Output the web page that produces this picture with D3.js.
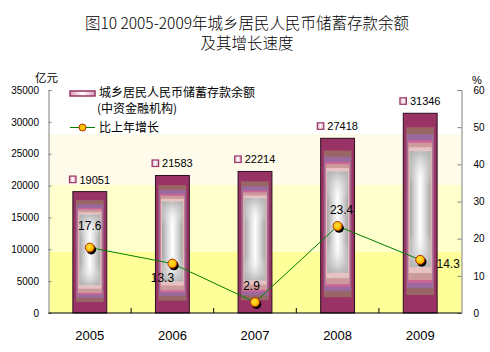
<!DOCTYPE html>
<html><head><meta charset="utf-8">
<script src="https://cdn.jsdelivr.net/npm/d3@7"></script>
<style>body{margin:0;background:#fff}svg{display:block}</style>
</head><body>
<svg id="c" width="490" height="352"></svg>
<script>
const years = ["2005","2006","2007","2008","2009"];
const savings = [19051, 21583, 22214, 27418, 31346];
const growth = [17.6, 13.3, 2.9, 23.4, 14.3];
const leftTicks = [0,5000,10000,15000,20000,25000,30000,35000];
const rightTicks = [0,10,20,30,40,50,60];
const titleLines = ["图10 2005-2009年城乡居民人民币储蓄存款余额","及其增长速度"];
const legendBar = ["城乡居民人民币储蓄存款余额","(中资金融机构)"];
const legendLine = "比上年增长";
const leftUnit = "亿元", rightUnit = "%";

const svg = d3.select("#c");
const X0 = 48.5, X1 = 461.5, Y0 = 313, YT = 90;
const cjk = "'Noto Sans CJK SC','Noto Sans',sans-serif";
const lat = "'Liberation Sans',Arial,sans-serif";

const x = d3.scaleBand().domain(years).range([X0, X1]).paddingInner(0.59).paddingOuter(0.295);
const yL = d3.scaleLinear().domain([0,35000]).range([Y0, YT]);
const yR = d3.scaleLinear().domain([0,60]).range([Y0, YT]);

const defs = svg.append("defs");
const gH = defs.append("linearGradient").attr("id","gh").attr("x1",0).attr("x2",1).attr("y1",0).attr("y2",0);
[[0,"#a6a6a6"],[0.3,"#e0e0e0"],[0.5,"#ffffff"],[0.7,"#e0e0e0"],[1,"#a6a6a6"]].forEach(s=>gH.append("stop").attr("offset",s[0]).attr("stop-color",s[1]));
const gV = defs.append("linearGradient").attr("id","gv").attr("x1",0).attr("x2",0).attr("y1",0).attr("y2",1);
[[0,"#b0b0b0",0.85],[0.3,"#ffffff",0],[0.7,"#ffffff",0],[1,"#b0b0b0",0.85]].forEach(s=>gV.append("stop").attr("offset",s[0]).attr("stop-color",s[1]).attr("stop-opacity",s[2]));
const gK = defs.append("linearGradient").attr("id","gk").attr("x1",0).attr("x2",1);
[[0,"#d9a0b8"],[0.5,"#ffffff"],[1,"#d9a0b8"]].forEach(s=>gK.append("stop").attr("offset",s[0]).attr("stop-color",s[1]));
const gM = defs.append("radialGradient").attr("id","gm").attr("cx",0.4).attr("cy",0.4).attr("r",0.6);
[[0,"#ffe040"],[0.7,"#ffc000"],[1,"#f0a000"]].forEach(s=>gM.append("stop").attr("offset",s[0]).attr("stop-color",s[1]));

// background bands
const H = Y0 - YT;
const bands = [[0.197,0.426,"#fffbea"],[0.426,0.726,"#ffffcc"],[0.726,1,"#ffff99"]];
bands.forEach(b=>svg.append("rect").attr("x",X0+1).attr("width",X1-X0-1)
  .attr("y",YT+b[0]*H).attr("height",(b[1]-b[0])*H).attr("fill",b[2]));

// title
svg.selectAll(".t").data(titleLines).join("text").attr("x",247).attr("y",(d,i)=>23.5+i*20)
  .attr("dy","0.36em").attr("text-anchor","middle").attr("font-family",cjk).attr("font-size",15.5)
  .attr("font-weight",300).attr("fill","#000").text(d=>d);

svg.append("text").attr("x",35).attr("y",78).attr("dy","0.36em").attr("font-family",cjk).attr("font-size",11.5).text(leftUnit);
svg.append("text").attr("x",477).attr("y",80).attr("dy","0.36em").attr("text-anchor","middle").attr("font-family",lat).attr("font-size",11).text(rightUnit);

// axes
const aL = svg.append("g").attr("transform",`translate(${X0},0)`)
  .call(d3.axisLeft(yL).tickValues(leftTicks).tickSize(-3).tickPadding(9.5).tickFormat(d3.format("d")));
const aR = svg.append("g").attr("transform",`translate(${X1},0)`)
  .call(d3.axisRight(yR).tickValues(rightTicks).tickSize(-4).tickPadding(8));
[aL,aR].forEach(a=>{a.select(".domain").attr("stroke","#808080");a.selectAll(".tick line").attr("stroke","#808080");
  a.selectAll("text").attr("font-family",lat).attr("font-size",10).attr("fill","#000");});
aR.selectAll("text").attr("dx",4);

// bars
const layers = [
  {c:"#996666",ix:3,t:0.07,b:0.09},
  {c:"#9a6a9e",ix:3.5,t:0.105,b:0.125},
  {c:"#cc6699",ix:4.5,t:0.135,b:0.15},
  {c:"#cc9a9a",ix:5,t:0.148,b:0.165},
  {c:"#e6c2c2",ix:5.5,t:0.17,b:0.2}
];
const bw = x.bandwidth();
years.forEach((yr,i)=>{
  const g = svg.append("g");
  const bx = x(yr), by = yL(savings[i]), bh = Y0 - by;
  g.append("rect").attr("x",bx).attr("y",by).attr("width",bw).attr("height",bh).attr("fill","#993366");
  layers.forEach(l=>g.append("rect").attr("x",bx+l.ix).attr("width",bw-2*l.ix)
    .attr("y",by+l.t*bh).attr("height",bh*(1-l.t-l.b)).attr("fill",l.c));
  const gx = bx+6.5, gw = bw-13, gy = by+0.19*bh, gh = bh*(1-0.19-0.23);
  g.append("rect").attr("x",gx).attr("y",gy).attr("width",gw).attr("height",gh).attr("fill","url(#gh)");
  g.append("rect").attr("x",gx).attr("y",gy).attr("width",gw).attr("height",gh).attr("fill","url(#gv)");
  g.append("rect").attr("x",bx).attr("y",by).attr("width",bw).attr("height",bh).attr("fill","none").attr("stroke","#2a1020").attr("stroke-width",1);
  // value label
  const cx = bx + bw/2, ly = by - 12;
  const txt = svg.append("text").attr("x",cx+5).attr("y",ly).attr("dy","0.36em").attr("text-anchor","middle")
    .attr("font-family",lat).attr("font-size",11).text(savings[i]);
  const tw = txt.node().getComputedTextLength();
  svg.append("rect").attr("x",cx+5-tw/2-10).attr("y",ly-3.5).attr("width",6.5).attr("height",6.5)
    .attr("fill","url(#gk)").attr("stroke","#993366").attr("stroke-width",1.2);
});

// bottom axis
svg.append("line").attr("x1",X0).attr("x2",X1).attr("y1",Y0).attr("y2",Y0).attr("stroke","#000");
const bounds = years.slice(1).map(y=>x(y) - x.step()*x.paddingInner()/2);
svg.selectAll(".ct").data(bounds).join("line").attr("x1",d=>d).attr("x2",d=>d).attr("y1",Y0).attr("y2",Y0-5).attr("stroke","#000");
svg.selectAll(".cl").data(years).join("text").attr("x",d=>x(d)+bw/2).attr("y",335).attr("dy","0.36em")
  .attr("text-anchor","middle").attr("font-family",lat).attr("font-size",13).text(d=>d);

// line
const px = (d,i)=>x(years[i])+bw/2;
svg.append("path").datum(growth).attr("fill","none").attr("stroke","#008000").attr("stroke-width",1)
  .attr("d",d3.line().x(px).y(d=>yR(d)));
growth.forEach((v,i)=>{
  svg.append("circle").attr("cx",px(v,i)+1.5).attr("cy",yR(v)+2).attr("r",4.8).attr("fill","#000");
  svg.append("circle").attr("cx",px(v,i)).attr("cy",yR(v)).attr("r",4.5).attr("fill","url(#gm)").attr("stroke","#b03000").attr("stroke-width",1);
});
const lblOff = [[0,-22],[-10,14],[-3.5,-17],[4,-16],[28,3.5]];
growth.forEach((v,i)=>svg.append("text").attr("x",px(v,i)+lblOff[i][0]).attr("y",yR(v)+lblOff[i][1]).attr("dy","0.36em")
  .attr("text-anchor","middle").attr("font-family",lat).attr("font-size",12).text(d3.format(".1f")(v)));

// legend
svg.append("rect").attr("x",70).attr("y",91).attr("width",25).attr("height",5).attr("fill","url(#gk)").attr("stroke","#993366").attr("stroke-width",1.5);
svg.selectAll(".lg").data(legendBar).join("text").attr("x",(d,i)=>i?97:99).attr("y",(d,i)=>92.5+i*16).attr("dy","0.36em")
  .attr("font-family",cjk).attr("font-size",12).text(d=>d);
svg.append("line").attr("x1",70).attr("x2",95).attr("y1",127.5).attr("y2",127.5).attr("stroke","#008000");
svg.append("circle").attr("cx",82.5).attr("cy",127.5).attr("r",3.5).attr("fill","#ffc000").attr("stroke","#b03000");
svg.append("text").attr("x",99).attr("y",128).attr("dy","0.36em").attr("font-family",cjk).attr("font-size",12).text(legendLine);
</script>
</body></html>
